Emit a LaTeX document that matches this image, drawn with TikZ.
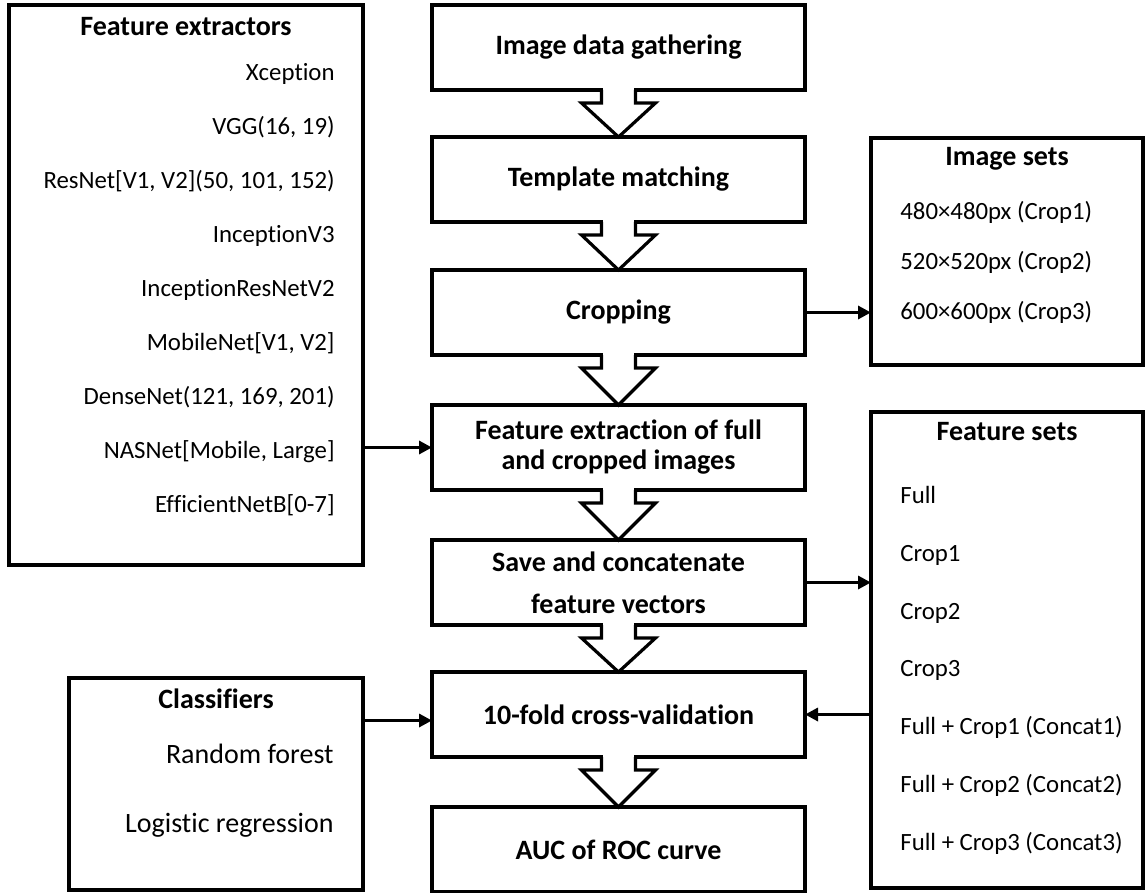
\documentclass[tikz,border=0pt]{standalone}
\usepackage{fontspec}
\setmainfont{Carlito}[Ligatures=NoCommon]
\usetikzlibrary{arrows.meta}

\tikzset{
  frame/.style={draw, line width=1.6pt, outer sep=0pt, inner sep=0pt},
  stepbox/.style={frame, minimum width=186.5pt, minimum height=42.5pt,
    align=center, font=\fontsize{14}{15}\selectfont\bfseries},
  listbox/.style={frame},
  heading/.style={inner sep=0pt, text height=1.5ex, text depth=.25ex,
    font=\fontsize{14}{16}\selectfont\bfseries},
  entry/.style={inner sep=0pt, text height=1.5ex, text depth=.25ex,
    font=\fontsize{12.4}{14}\selectfont},
  bigentry/.style={entry, font=\fontsize{14}{16}\selectfont},
  link/.style={line width=1.6pt, -{Triangle[length=6.5pt,width=6.5pt]}},
  hollow/.style={line width=1.6pt, line join=miter},
}

% hollow block arrow from the bottom of one step to the top of the next
\newcommand\flowarrow[2]{%
  \fill[white] ([xshift=-7.7pt,yshift=0.9pt]#1.south) rectangle ([xshift=7.7pt,yshift=-0.9pt]#1.south);
  \draw[hollow] ([xshift=-8.5pt]#1.south) -- ([xshift=-8.5pt,yshift=-6.5pt]#1.south)
    -- ([xshift=-18.5pt,yshift=-6.5pt]#1.south) -- (#2.north)
    -- ([xshift=18.5pt,yshift=-6.5pt]#1.south) -- ([xshift=8.5pt,yshift=-6.5pt]#1.south)
    -- ([xshift=8.5pt]#1.south);
}

\begin{document}
\begin{tikzpicture}[x=0.5pt,y=-0.5pt]
\useasboundingbox (0,0) rectangle (1146,893);

% main pipeline
\node[stepbox] (gather) at (618.5,47.5)  {Image data gathering};
\node[stepbox] (match)  at (618.5,179.5) {Template matching};
\node[stepbox] (crop)   at (618.5,312.5) {Cropping};
\node[stepbox] (featx)  at (618.5,447.5) {Feature extraction of full\\and cropped images};
\node[stepbox] (save)   at (618.5,582.5) {Save and concatenate\\[6pt]feature vectors};
\node[stepbox] (cv)     at (618.5,714.5) {10-fold cross-validation};
\node[stepbox] (auc)    at (618.5,849.5) {AUC of ROC curve};

\flowarrow{gather}{match}
\flowarrow{match}{crop}
\flowarrow{crop}{featx}
\flowarrow{featx}{save}
\flowarrow{save}{cv}
\flowarrow{cv}{auc}

% feature extractors
\node[listbox, minimum width=177pt, minimum height=280pt] (fext) at (186,285) {};
\node[heading] (fexth) at (186,30) {Feature extractors};
\node[entry, anchor=east] (fe1) at (335,75)  {Xception};
\node[entry, anchor=east] (fe2) at (335,129) {VGG(16, 19)};
\node[entry, anchor=east] (fe3) at (335,183) {ResNet[V1, V2](50, 101, 152)};
\node[entry, anchor=east] (fe4) at (335,237) {InceptionV3};
\node[entry, anchor=east] (fe5) at (335,291) {InceptionResNetV2};
\node[entry, anchor=east] (fe6) at (335,345) {MobileNet[V1, V2]};
\node[entry, anchor=east] (fe7) at (335,399) {DenseNet(121, 169, 201)};
\node[entry, anchor=east] (fe8) at (335,453) {NASNet[Mobile, Large]};
\node[entry, anchor=east] (fe9) at (335,507) {EfficientNetB[0-7]};

% image sets
\node[listbox, minimum width=136pt, minimum height=113.5pt] (isets) at (1007,251.5) {};
\node[heading] (isetsh) at (1007,160) {Image sets};
\node[entry, anchor=west] (is1) at (900,214) {480×480px (Crop1)};
\node[entry, anchor=west] (is2) at (900,264) {520×520px (Crop2)};
\node[entry, anchor=west] (is3) at (900,314) {600×600px (Crop3)};

% feature sets
\node[listbox, minimum width=136pt, minimum height=238pt] (fsets) at (1007,650) {};
\node[heading] (fsetsh) at (1007,435) {Feature sets};
\node[entry, anchor=west] (fs1) at (900,498) {Full};
\node[entry, anchor=west] (fs2) at (900,556) {Crop1};
\node[entry, anchor=west] (fs3) at (900,614) {Crop2};
\node[entry, anchor=west] (fs4) at (900,671) {Crop3};
\node[entry, anchor=west] (fs5) at (900,729) {Full + Crop1 (Concat1)};
\node[entry, anchor=west] (fs6) at (900,787) {Full + Crop2 (Concat2)};
\node[entry, anchor=west] (fs7) at (900,845) {Full + Crop3 (Concat3)};

% classifiers
\node[listbox, minimum width=147pt, minimum height=106pt] (clf) at (216,784) {};
\node[heading] (clfh) at (216,703) {Classifiers};
\node[bigentry, anchor=east] (cl1) at (334,758) {Random forest};
\node[bigentry, anchor=east] (cl2) at (334,827) {Logistic regression};

% side connectors
\coordinate (cvin) at ([yshift=-3pt]cv.west);
\draw[link] (fext.east |- featx.west) -- (featx.west);
\draw[link] (crop.east) -- (crop.east -| isets.west);
\draw[link] (save.east) -- (save.east -| fsets.west);
\draw[link] (fsets.west |- cv.east) -- (cv.east);
\draw[link] (clf.east |- cvin) -- (cvin);
\end{tikzpicture}
\end{document}
